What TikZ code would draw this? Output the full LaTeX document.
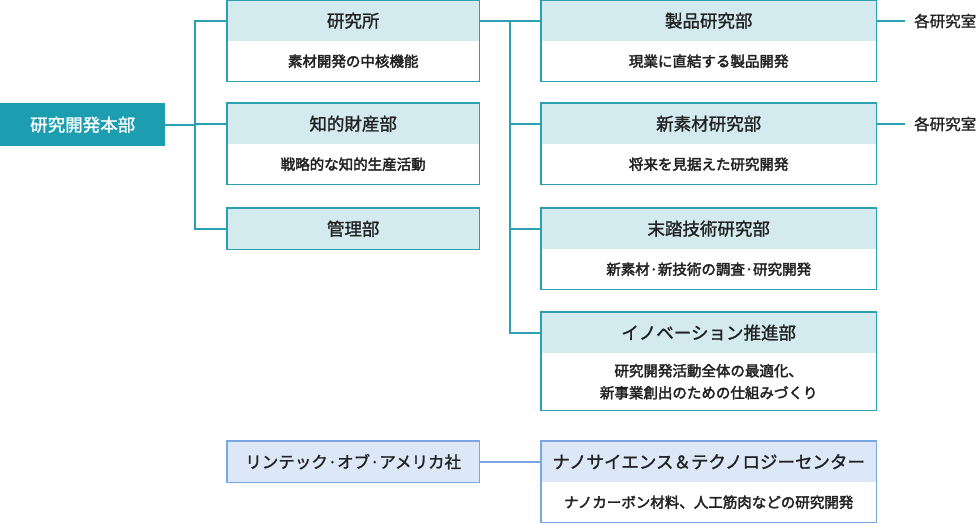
\documentclass[tikz,border=0pt]{standalone}
\usepackage{fontspec}
\setmainfont{Noto Sans CJK JP}
\newfontfamily\medfont[FakeBold=1.4]{Noto Sans CJK JP}
\newfontfamily\bodyfont[FakeBold=2.6]{Noto Sans CJK JP}
\usetikzlibrary{positioning}
\definecolor{tealmain}{HTML}{1D9EB0}
\definecolor{tealline}{HTML}{2AA0B2}
\definecolor{hdrfill}{HTML}{D3EBEF}
\definecolor{blueline}{HTML}{7BA6E2}
\definecolor{bluefill}{HTML}{DCE7F7}
\definecolor{txt}{HTML}{222222}
\begin{document}
\begin{tikzpicture}[x=1pt,y=-1pt,
  hdr/.style={anchor=north west,fill=hdrfill,inner sep=0pt,minimum height=41pt,text=txt,font=\medfont\fontsize{17.5}{20}\selectfont},
  body/.style={anchor=north west,fill=white,inner sep=0pt,minimum height=40pt,text=txt,align=center,font=\bodyfont\fontsize{14.5}{22}\selectfont},
  lw/.style={minimum width=252pt},
  rw/.style={minimum width=335pt},
  frame/.style={draw=tealline,line width=1.6pt},
  bframe/.style={draw=blueline,line width=1.4pt},
  conn/.style={draw=tealline,line width=2pt},
  bconn/.style={draw=blueline,line width=1.6pt},
  lab/.style={text=txt,anchor=west,inner sep=0pt,font=\medfont\fontsize{15.5}{18}\selectfont}]
\useasboundingbox (0,0) rectangle (980,523);
% main
\node[anchor=north west,fill=tealmain,minimum width=165pt,minimum height=43pt,inner sep=0pt,text=white,font=\medfont\fontsize{17.5}{20}\selectfont] (main) at (0,103) {研究開発本部};
% left column
\node[hdr,lw] (a1) at (227,0) {研究所};
\node[body,lw] (a1b) at (227,41) {素材開発の中核機能};
\draw[frame] (a1.north west) rectangle (a1b.south east);
\node[hdr,lw] (a2) at (227,103) {知的財産部};
\node[body,lw] (a2b) at (227,144) {戦略的な知的生産活動};
\draw[frame] (a2.north west) rectangle (a2b.south east);
\node[hdr,lw] (a3) at (227,208) {管理部};
\draw[frame] (a3.north west) rectangle (a3.south east);
% right column
\node[hdr,rw] (b1) at (541,0) {製品研究部};
\node[body,rw] (b1b) at (541,41) {現業に直結する製品開発};
\draw[frame] (b1.north west) rectangle (b1b.south east);
\node[hdr,rw] (b2) at (541,103) {新素材研究部};
\node[body,rw] (b2b) at (541,144) {将来を見据えた研究開発};
\draw[frame] (b2.north west) rectangle (b2b.south east);
\node[hdr,rw] (b3) at (541,208) {末踏技術研究部};
\node[body,rw] (b3b) at (541,249) {新素材·新技術の調査·研究開発};
\draw[frame] (b3.north west) rectangle (b3b.south east);
\node[hdr,rw] (b4) at (541,312) {イノベーション推進部};
\node[body,rw,minimum height=57pt] (b4b) at (541,353) {研究開発活動全体の最適化、\\新事業創出のための仕組みづくり};
\draw[frame] (b4.north west) rectangle (b4b.south east);
% labs
\node[lab] (l1) at (914,21) {各研究室};
\node[lab] (l2) at (914,124) {各研究室};
\coordinate (l1w) at (905,0 |- b1.east);
\coordinate (l2w) at (905,0 |- b2.east);
\draw[conn] (b1.east) -- (b1.east -| l1w);
\draw[conn] (b2.east) -- (b2.east -| l2w);
% left connectors
\coordinate (j1) at (195,124);
\draw[conn] (main.east) -- (main.east -| j1);
\draw[conn] (a1.west) -| (j1) |- (a3.west);
\draw[conn] (j1) -- (j1 -| a2.west);
% right connectors
\coordinate (j2) at (510,20.5);
\draw[conn] (a1.east) -- (b1.west);
\draw[conn] (j2) |- (b4.west);
\draw[conn] (j2 |- b2.west) -- (b2.west);
\draw[conn] (j2 |- b3.west) -- (b3.west);
% blue
\node[anchor=north west,fill=bluefill,lw,minimum height=41pt,inner sep=0pt,text=txt,font=\medfont\fontsize{16.5}{18}\selectfont] (c1) at (227,441) {リンテック·オブ·アメリカ社};
\draw[bframe] (c1.north west) rectangle (c1.south east);
\node[hdr,rw,fill=bluefill] (d1) at (541,441) {ナノサイエンス＆テクノロジーセンター};
\node[body,rw,minimum height=40pt] (d1b) at (541,482) {ナノカーボン材料、人工筋肉などの研究開発};
\draw[bframe] (d1.north west) rectangle (d1b.south east);
\draw[bconn] (c1.east) -- (d1.west);
\end{tikzpicture}
\end{document}
